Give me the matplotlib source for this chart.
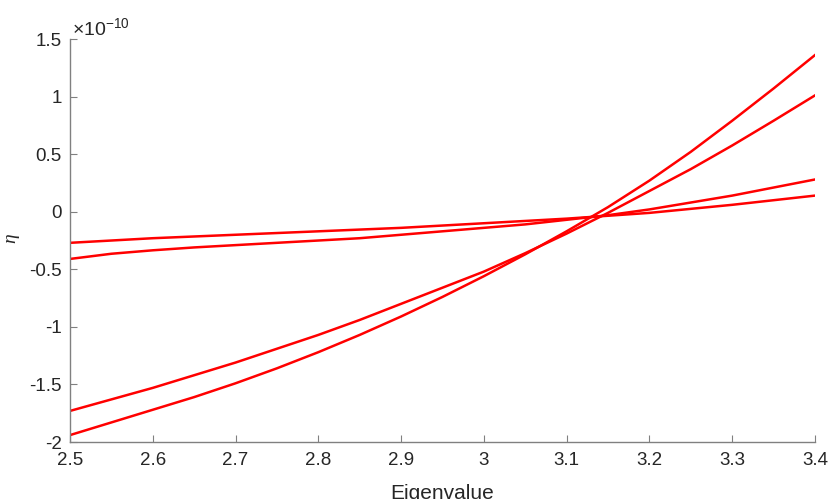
import matplotlib
matplotlib.use('Agg')
import matplotlib.pyplot as plt
from matplotlib.ticker import FuncFormatter

# eigenvalue grid (x) and eta values in units of 1e-10
eig = [2.5, 2.55, 2.6, 2.65, 2.7, 2.75, 2.8, 2.85, 2.9, 2.95,
       3.0, 3.05, 3.1, 3.15, 3.2, 3.25, 3.3, 3.35, 3.4]
eta_a = [-1.94, -1.83, -1.72, -1.61, -1.49, -1.36, -1.22, -1.07, -0.91, -0.74,
         -0.56, -0.37, -0.17, 0.04, 0.27, 0.52, 0.79, 1.07, 1.36]
eta_b = [-1.73, -1.63, -1.53, -1.42, -1.31, -1.19, -1.07, -0.94, -0.80, -0.66,
         -0.52, -0.36, -0.19, -0.01, 0.18, 0.37, 0.575, 0.79, 1.01]
eta_c = [-0.41, -0.365, -0.335, -0.31, -0.29, -0.27, -0.25, -0.23, -0.20, -0.17,
         -0.14, -0.11, -0.07, -0.03, 0.02, 0.08, 0.14, 0.21, 0.28]
eta_d = [-0.27, -0.25, -0.23, -0.215, -0.20, -0.185, -0.17, -0.155, -0.14, -0.12,
         -0.10, -0.08, -0.06, -0.035, -0.01, 0.025, 0.06, 0.10, 0.14]

xticks = [2.5, 2.6, 2.7, 2.8, 2.9, 3.0, 3.1, 3.2, 3.3, 3.4]
yticks = [-2, -1.5, -1, -0.5, 0, 0.5, 1, 1.5]

plt.rcParams['font.family'] = ['Liberation Sans', 'DejaVu Sans']
plt.rcParams['mathtext.fontset'] = 'custom'
plt.rcParams['mathtext.rm'] = 'Liberation Sans'
plt.rcParams['mathtext.it'] = 'Liberation Serif:italic'

TXT = '#262626'
AXC = '#808080'

fig = plt.figure(figsize=(8.29, 4.99), dpi=100)
ax = fig.add_axes([0.0844, 0.1142, 0.8986, 0.8076])

for ys in (eta_a, eta_b, eta_c, eta_d):
    ax.plot(eig, ys, color='#ff0000', linewidth=1.8, solid_joinstyle='round')

ax.set_xlim(2.5, 3.4)
ax.set_ylim(-2, 1.5)
ax.set_xticks(xticks)
ax.set_yticks(yticks)
fmt = FuncFormatter(lambda v, p: '%g' % v)
ax.xaxis.set_major_formatter(fmt)
ax.yaxis.set_major_formatter(fmt)

for s in ('top', 'right'):
    ax.spines[s].set_visible(False)
for s in ('left', 'bottom'):
    ax.spines[s].set_color(AXC)
    ax.spines[s].set_linewidth(1.0)
ax.tick_params(direction='in', length=5, color=AXC, labelcolor=TXT,
               labelsize=13.5)
ax.tick_params(axis='x', pad=7)
ax.tick_params(axis='y', pad=6)

ax.set_xlabel('Eigenvalue', fontsize=15, color=TXT)
ax.xaxis.set_label_coords(0.5, -0.105)
ax.set_ylabel(r'$\eta$', fontsize=14, color=TXT)
ax.yaxis.set_label_coords(-0.065, 0.505)

ax.text(0.003, 1.0, r'$\times\mathregular{10^{-10}}$', transform=ax.transAxes,
        fontsize=14, color=TXT, ha='left', va='bottom')

fig.savefig('out.png', dpi=100)
